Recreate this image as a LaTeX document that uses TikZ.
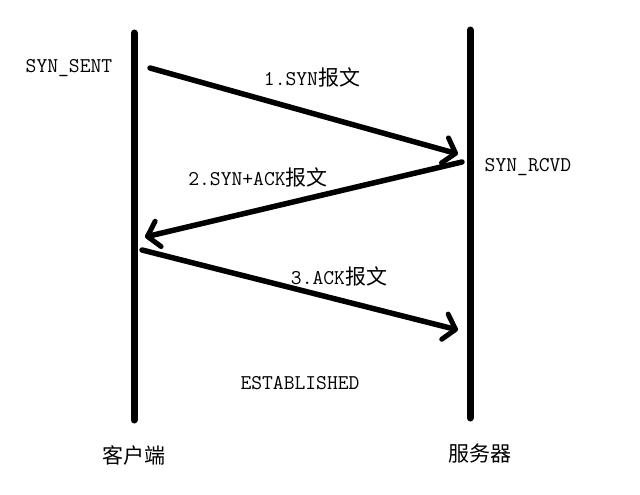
\documentclass[tikz,border=0pt]{standalone}
\usepackage{fontspec}
\setmonofont{Latin Modern Mono}
\newfontfamily\cjk{Noto Sans CJK SC}
\usetikzlibrary{arrows.meta}
\newcommand{\zh}[1]{{\cjk #1}}
\begin{document}
\begin{tikzpicture}[x=1pt,y=-1pt,
  lifeline/.style={line width=7pt,line cap=round},
  msg/.style={line width=5.5pt,line cap=round,
    -{Straight Barb[length=11pt,width=26pt,line width=5pt,round]}},
  lbl/.style={font=\ttfamily\fontsize{21}{24}\selectfont,inner sep=0pt,anchor=center}]
\useasboundingbox (0,0) rectangle (640,495);
% lifelines
\coordinate (ct) at (134,33);
\coordinate (cb) at (134,420);
\coordinate (st) at (470,30);
\coordinate (sb) at (470,418);
\draw[lifeline] (ct) -- (cb);
\draw[lifeline] (st) -- (sb);
% message endpoints
\coordinate (m1s) at (150,68);
\coordinate (m1e) at (458,154);
\coordinate (m2s) at (462,162);
\coordinate (m2e) at (145,237);
\coordinate (m3s) at (142,250);
\coordinate (m3e) at (458,330);
\draw[msg] (m1s) -- (m1e);
\draw[msg] (m2s) -- (m2e);
\draw[msg] (m3s) -- (m3e);
% labels
\node[lbl] (synsent) at (69,68) {SYN\_SENT};
\node[lbl] (synrcvd) at (528,167) {SYN\_RCVD};
\node[lbl] (l1) at (312,77) {1.SYN\zh{报文}};
\node[lbl] (l2) at (258,177) {2.SYN+ACK\zh{报文}};
\node[lbl] (l3) at (339,276) {3.ACK\zh{报文}};
\node[lbl] (est) at (300,383) {ESTABLISHED};
\node[lbl] (client) at (134,455) {\zh{客户端}};
\node[lbl] (server) at (480,454) {\zh{服务器}};
\end{tikzpicture}
\end{document}
